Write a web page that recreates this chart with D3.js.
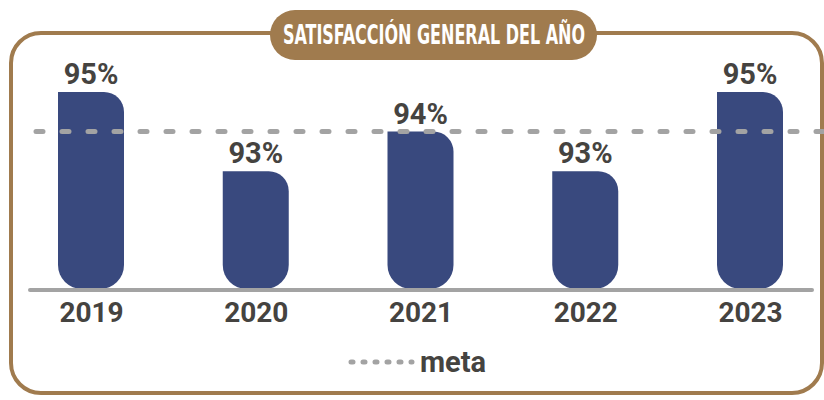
<!DOCTYPE html>
<html><head><meta charset="utf-8">
<script src="https://cdn.jsdelivr.net/npm/d3@7"></script>
<style>
html,body{margin:0;padding:0;background:#fff;}
svg{display:block;}
</style></head>
<body>
<svg id="chart" width="824" height="400"></svg>
<script>
const title = "SATISFACCIÓN GENERAL DEL AÑO";
const years = ["2019","2020","2021","2022","2023"];
const values = [95, 93, 94, 93, 95];
const labels = ["95%","93%","94%","93%","95%"];
const meta = 94;
const legendLabel = "meta";

const W = 824, H = 400;
const brown = "#a07b4e", navy = "#39497e", grey = "#a3a3a3", txt = "#454340";
const svg = d3.select("#chart");

const x = d3.scalePoint().domain(years).range([91, 750]);
const y = d3.scaleLinear().domain([90, 95]).range([290, 92]);
const bw = 66, rTop = 20, rBot = 24;

// frame
svg.append("rect").attr("x", 11).attr("y", 33).attr("width", 811).attr("height", 360)
  .attr("rx", 30).attr("fill", "none").attr("stroke", brown).attr("stroke-width", 4);

// bars
function barPath(cx, top, bottom) {
  const l = cx - bw/2, r = cx + bw/2;
  return `M${l},${top} L${r-rTop},${top} A${rTop},${rTop} 0 0 1 ${r},${top+rTop}
          L${r},${bottom-rBot} A${rBot},${rBot} 0 0 1 ${r-rBot},${bottom}
          L${l+rBot},${bottom} A${rBot},${rBot} 0 0 1 ${l},${bottom-rBot} Z`;
}
svg.append("g").selectAll("path").data(years).join("path")
  .attr("d", (d,i) => barPath(x(d), y(values[i]), y(90)-1))
  .attr("fill", navy);

// baseline
svg.append("line").attr("x1", 30).attr("x2", 812).attr("y1", y(90)).attr("y2", y(90))
  .attr("stroke", grey).attr("stroke-width", 4).attr("stroke-linecap", "round");

// meta line
svg.append("line").attr("x1", 36).attr("x2", 830).attr("y1", y(meta)).attr("y2", y(meta))
  .attr("stroke", grey).attr("stroke-width", 5).attr("stroke-linecap", "round")
  .attr("stroke-dasharray", "7 19");

// value labels
svg.append("g").selectAll("text").data(years).join("text")
  .attr("x", d => x(d)).attr("y", (d,i) => y(values[i]) - 8)
  .attr("text-anchor", "middle").attr("fill", txt)
  .attr("font-family", "Roboto, 'Open Sans', sans-serif").attr("font-weight", 700)
  .attr("font-size", 29).text((d,i) => labels[i]);

// year labels via axis
const axis = svg.append("g").attr("transform", `translate(0,${y(90)})`)
  .call(d3.axisBottom(x).tickSize(0).tickPadding(32));
axis.select(".domain").remove();
axis.selectAll("text").attr("fill", txt).attr("font-family", "Roboto, 'Open Sans', sans-serif")
  .attr("font-weight", 700).attr("font-size", 28).attr("dy", 0);

// title pill
const pill = svg.append("g");
pill.append("rect").attr("x", 270).attr("y", 10).attr("width", 327).attr("height", 50)
  .attr("rx", 25).attr("fill", brown);
pill.append("text").attr("x", 434).attr("y", 44).attr("text-anchor", "middle")
  .attr("fill", "#fff").attr("font-family", "'Liberation Sans Narrow', 'DejaVu Sans Condensed', sans-serif")
  .attr("font-weight", 700).attr("font-size", 26).attr("textLength", 302)
  .attr("lengthAdjust", "spacingAndGlyphs").text(title);

// legend
svg.append("line").attr("x1", 351).attr("x2", 412).attr("y1", 362).attr("y2", 362)
  .attr("stroke", grey).attr("stroke-width", 5).attr("stroke-linecap", "round")
  .attr("stroke-dasharray", "2 10");
svg.append("text").attr("x", 420).attr("y", 372).attr("fill", txt)
  .attr("font-family", "Roboto, 'Open Sans', sans-serif").attr("font-weight", 700)
  .attr("font-size", 29).text(legendLabel);
</script>
</body></html>
